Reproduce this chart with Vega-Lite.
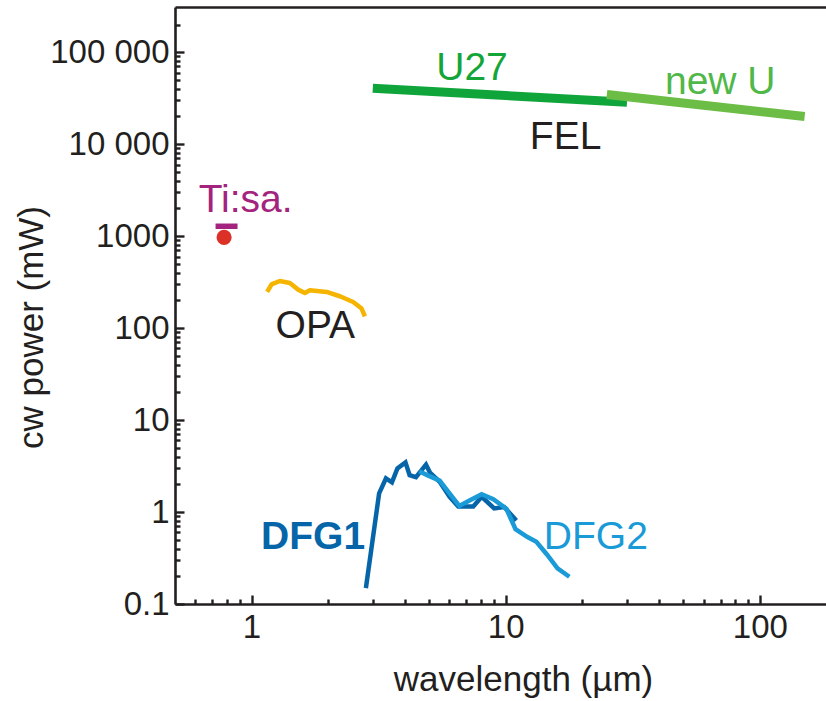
{
  "$schema": "https://vega.github.io/schema/vega-lite/v6.json",
  "width": 651,
  "height": 597,
  "autosize": {"type": "none"},
  "padding": {"left": 175, "top": 7, "right": 0, "bottom": 97},
  "background": "white",
  "config": {
    "view": {"stroke": null},
    "axis": {
      "grid": false,
      "domainColor": "#231f20",
      "tickColor": "#231f20",
      "labelColor": "#231f20",
      "titleColor": "#231f20",
      "labelFont": "Liberation Sans",
      "titleFont": "Liberation Sans",
      "domainWidth": 2.6,
      "tickWidth": 2.4,
      "titleFontWeight": "normal"
    },
    "text": {"font": "Liberation Sans"}
  },
  "datasets": {
    "lines": [
      {"series": "U27", "x": 3.0, "y": 40600},
      {"series": "U27", "x": 30, "y": 28600},
      {"series": "new U", "x": 25, "y": 34700},
      {"series": "new U", "x": 150, "y": 20000},
      {"series": "OPA", "x": 1.152, "y": 247},
      {"series": "OPA", "x": 1.199, "y": 299},
      {"series": "OPA", "x": 1.292, "y": 325},
      {"series": "OPA", "x": 1.415, "y": 309},
      {"series": "OPA", "x": 1.526, "y": 262},
      {"series": "OPA", "x": 1.621, "y": 241},
      {"series": "OPA", "x": 1.696, "y": 258},
      {"series": "OPA", "x": 1.974, "y": 247},
      {"series": "OPA", "x": 2.227, "y": 222},
      {"series": "OPA", "x": 2.512, "y": 192},
      {"series": "OPA", "x": 2.711, "y": 163},
      {"series": "OPA", "x": 2.793, "y": 134},
      {"series": "DFG1", "x": 2.818, "y": 0.149},
      {"series": "DFG1", "x": 3.177, "y": 1.595},
      {"series": "DFG1", "x": 3.38, "y": 2.32},
      {"series": "DFG1", "x": 3.568, "y": 2.105},
      {"series": "DFG1", "x": 3.75, "y": 2.98},
      {"series": "DFG1", "x": 4.033, "y": 3.47},
      {"series": "DFG1", "x": 4.188, "y": 2.52},
      {"series": "DFG1", "x": 4.436, "y": 2.398},
      {"series": "DFG1", "x": 4.857, "y": 3.278},
      {"series": "DFG1", "x": 5.035, "y": 2.683},
      {"series": "DFG1", "x": 5.498, "y": 2.131},
      {"series": "DFG1", "x": 6.018, "y": 1.465},
      {"series": "DFG1", "x": 6.508, "y": 1.152},
      {"series": "DFG1", "x": 7.454, "y": 1.152},
      {"series": "DFG1", "x": 8.044, "y": 1.465},
      {"series": "DFG1", "x": 9.01, "y": 1.096},
      {"series": "DFG1", "x": 9.865, "y": 1.132},
      {"series": "DFG1", "x": 11.01, "y": 0.811},
      {"series": "DFG2", "x": 4.569, "y": 2.772},
      {"series": "DFG2", "x": 4.959, "y": 2.489},
      {"series": "DFG2", "x": 5.498, "y": 2.196},
      {"series": "DFG2", "x": 5.98, "y": 1.627},
      {"series": "DFG2", "x": 6.567, "y": 1.166},
      {"series": "DFG2", "x": 7.236, "y": 1.339},
      {"series": "DFG2", "x": 8.044, "y": 1.559},
      {"series": "DFG2", "x": 8.937, "y": 1.376},
      {"series": "DFG2", "x": 10.06, "y": 1.085},
      {"series": "DFG2", "x": 10.93, "y": 0.65},
      {"series": "DFG2", "x": 12.18, "y": 0.534},
      {"series": "DFG2", "x": 13.2, "y": 0.475},
      {"series": "DFG2", "x": 14.5, "y": 0.3475},
      {"series": "DFG2", "x": 15.99, "y": 0.244},
      {"series": "DFG2", "x": 17.8, "y": 0.198}
    ],
    "tisa": [{"x": 0.722, "x2": 0.881, "y": 1280}],
    "dot": [{"x": 0.78, "y": 970}],
    "labels": [
      {"label": "U27", "x": 7.37, "y": 49270},
      {"label": "new U", "x": 69.8, "y": 35300},
      {"label": "FEL", "x": 17.2, "y": 8926},
      {"label": "Ti:sa.", "x": 0.948, "y": 1827},
      {"label": "OPA", "x": 1.783, "y": 77.6},
      {"label": "DFG1", "x": 1.747, "y": 0.3928},
      {"label": "DFG2", "x": 22.63, "y": 0.3928}
    ]
  },
  "layer": [
    {
      "data": {"name": "lines"},
      "transform": [{"filter": "datum.series === 'U27'"}],
      "mark": {"type": "line", "color": "#0fa53b", "strokeWidth": 9, "strokeCap": "butt"},
      "encoding": {
        "x": {
          "field": "x", "type": "quantitative",
          "scale": {"type": "log", "domain": [0.5, 182], "nice": false},
          "axis": {
            "orient": "bottom",
            "values": [1, 10, 100],
            "labelExpr": "format(datum.value, 'd')",
            "tickSize": -9,
            "labelPadding": 16,
            "labelFontSize": 33,
            "labelFlush": false,
            "labelOverlap": false,
            "title": "wavelength (µm)",
            "titleFontSize": 35,
            "titleX": 348,
            "titleY": 86,
            "titleBaseline": "alphabetic",
            "titleAnchor": null
          }
        },
        "y": {
          "field": "y", "type": "quantitative",
          "scale": {"type": "log", "domain": [0.1, 310000], "nice": false},
          "axis": {
            "orient": "left",
            "values": [0.1, 1, 10, 100, 1000, 10000, 100000],
            "labelExpr": "datum.value >= 100000 ? '100 000' : datum.value >= 10000 ? '10 000' : datum.value < 0.5 ? '0.1' : format(datum.value, 'd')",
            "tickSize": -9,
            "labelPadding": 15,
            "labelFontSize": 33,
            "labelFlush": false,
            "labelOverlap": false,
            "labelBaseline": "middle",
            "title": "cw power (mW)",
            "titleFontSize": 35,
            "titleAngle": -90,
            "titleX": -133,
            "titleY": 320,
            "titleBaseline": "alphabetic",
            "titleAlign": "center",
            "titleAnchor": null
          }
        }
      }
    },
    {
      "data": {"name": "lines"},
      "transform": [{"filter": "datum.series === 'new U'"}],
      "mark": {"type": "line", "color": "#6cbd45", "strokeWidth": 9, "strokeCap": "butt"},
      "encoding": {
        "x": {
          "field": "x", "type": "quantitative",
          "scale": {"type": "log", "domain": [0.5, 182], "nice": false},
          "axis": {
            "orient": "bottom",
            "values": [0.6, 0.7, 0.8, 0.9, 2, 3, 4, 5, 6, 7, 8, 9, 20, 30, 40, 50, 60, 70, 80, 90],
            "labels": false,
            "domain": false,
            "tickSize": -5,
            "title": null
          }
        },
        "y": {
          "field": "y", "type": "quantitative",
          "scale": {"type": "log", "domain": [0.1, 310000], "nice": false},
          "axis": {
            "orient": "left",
            "values": [0.2, 0.3, 0.4, 0.5, 0.6, 0.7, 0.8, 0.9, 2, 3, 4, 5, 6, 7, 8, 9, 20, 30, 40, 50, 60, 70, 80, 90, 200, 300, 400, 500, 600, 700, 800, 900, 2000, 3000, 4000, 5000, 6000, 7000, 8000, 9000, 20000, 30000, 40000, 50000, 60000, 70000, 80000, 90000, 200000],
            "labels": false,
            "domain": false,
            "tickSize": -5,
            "title": null
          }
        }
      }
    },
    {
      "data": {"name": "lines"},
      "transform": [{"filter": "datum.series === 'OPA'"}],
      "mark": {"type": "line", "color": "#f5b400", "strokeWidth": 4.5, "strokeCap": "butt", "strokeJoin": "round"},
      "encoding": {
        "x": {
          "field": "x", "type": "quantitative",
          "scale": {"type": "log", "domain": [0.5, 182], "nice": false},
          "axis": {"orient": "top", "ticks": false, "labels": false, "domain": true, "title": null}
        },
        "y": {
          "field": "y", "type": "quantitative",
          "scale": {"type": "log", "domain": [0.1, 310000], "nice": false},
          "axis": null
        }
      }
    },
    {
      "data": {"name": "lines"},
      "transform": [{"filter": "datum.series === 'DFG1'"}],
      "mark": {"type": "line", "color": "#0665a9", "strokeWidth": 4.5, "strokeCap": "butt", "strokeJoin": "miter"},
      "encoding": {
        "x": {"field": "x", "type": "quantitative", "scale": {"type": "log", "domain": [0.5, 182], "nice": false}, "axis": null},
        "y": {"field": "y", "type": "quantitative", "scale": {"type": "log", "domain": [0.1, 310000], "nice": false}, "axis": null}
      }
    },
    {
      "data": {"name": "lines"},
      "transform": [{"filter": "datum.series === 'DFG2'"}],
      "mark": {"type": "line", "color": "#1a9ad6", "strokeWidth": 4.5, "strokeCap": "butt", "strokeJoin": "miter"},
      "encoding": {
        "x": {"field": "x", "type": "quantitative", "scale": {"type": "log", "domain": [0.5, 182], "nice": false}, "axis": null},
        "y": {"field": "y", "type": "quantitative", "scale": {"type": "log", "domain": [0.1, 310000], "nice": false}, "axis": null}
      }
    },
    {
      "data": {"name": "tisa"},
      "mark": {"type": "rule", "color": "#a3237e", "strokeWidth": 5.5},
      "encoding": {
        "x": {"field": "x", "type": "quantitative", "scale": {"type": "log", "domain": [0.5, 182], "nice": false}, "axis": null},
        "x2": {"field": "x2"},
        "y": {"field": "y", "type": "quantitative", "scale": {"type": "log", "domain": [0.1, 310000], "nice": false}, "axis": null}
      }
    },
    {
      "data": {"name": "dot"},
      "mark": {"type": "point", "filled": true, "color": "#dc3127", "opacity": 1, "size": 230, "shape": "circle"},
      "encoding": {
        "x": {"field": "x", "type": "quantitative", "scale": {"type": "log", "domain": [0.5, 182], "nice": false}, "axis": null},
        "y": {"field": "y", "type": "quantitative", "scale": {"type": "log", "domain": [0.1, 310000], "nice": false}, "axis": null}
      }
    },
    {
      "data": {"name": "labels"},
      "transform": [{"filter": "datum.label !== 'DFG1'"}],
      "mark": {"type": "text", "fontSize": 39, "align": "center", "baseline": "alphabetic", "font": "Liberation Sans"},
      "encoding": {
        "x": {"field": "x", "type": "quantitative", "scale": {"type": "log", "domain": [0.5, 182], "nice": false}, "axis": null},
        "y": {"field": "y", "type": "quantitative", "scale": {"type": "log", "domain": [0.1, 310000], "nice": false}, "axis": null},
        "text": {"field": "label"},
        "color": {
          "field": "label", "type": "nominal",
          "scale": {"domain": ["U27", "new U", "FEL", "Ti:sa.", "OPA", "DFG2"], "range": ["#13a538", "#4fb848", "#231f20", "#a3237e", "#231f20", "#1a9ad6"]},
          "legend": null
        }
      }
    },
    {
      "data": {"name": "labels"},
      "transform": [{"filter": "datum.label === 'DFG1'"}],
      "mark": {"type": "text", "fontSize": 39, "fontWeight": "bold", "align": "center", "baseline": "alphabetic", "font": "Liberation Sans", "color": "#0665a9"},
      "encoding": {
        "x": {"field": "x", "type": "quantitative", "scale": {"type": "log", "domain": [0.5, 182], "nice": false}, "axis": null},
        "y": {"field": "y", "type": "quantitative", "scale": {"type": "log", "domain": [0.1, 310000], "nice": false}, "axis": null},
        "text": {"field": "label"}
      }
    }
  ],
  "resolve": {"axis": {"x": "independent", "y": "independent"}}
}
